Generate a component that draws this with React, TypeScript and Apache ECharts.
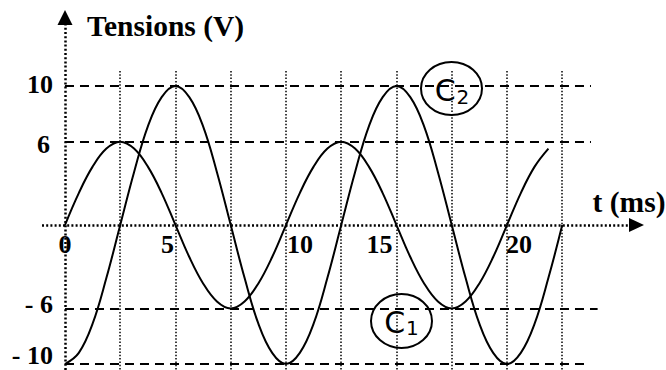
import React, { useEffect, useRef } from "react";
import * as echarts from "echarts";

// time samples (ms)
const TIME_MS = [
  0, 0.625, 1.25, 1.875, 2.5, 3.125, 3.75, 4.375, 5, 5.625, 6.25, 6.875, 7.5,
  8.125, 8.75, 9.375, 10, 10.625, 11.25, 11.875, 12.5, 13.125, 13.75, 14.375,
  15, 15.625, 16.25, 16.875, 17.5, 18.125, 18.75, 19.375, 20, 20.625, 21.25,
  21.875, 22.5,
];
// curve C1 (V)
const C1_VOLTS = [
  0, 2.3, 4.2, 5.5, 6, 5.5, 4.2, 2.3, 0, -2.3, -4.2, -5.5, -6, -5.5, -4.2, -2.3,
  0, 2.3, 4.2, 5.5, 6, 5.5, 4.2, 2.3, 0, -2.3, -4.2, -5.5, -6, -5.5, -4.2, -2.3,
  0, 2.3, 4.2, 5.5,
];
// curve C2 (V)
const C2_VOLTS = [
  -10, -9.2, -7.1, -3.8, 0, 3.8, 7.1, 9.2, 10, 9.2, 7.1, 3.8, 0, -3.8, -7.1, -9.2,
  -10, -9.2, -7.1, -3.8, 0, 3.8, 7.1, 9.2, 10, 9.2, 7.1, 3.8, 0, -3.8, -7.1, -9.2,
  -10, -9.2, -7.1, -3.8, 0,
];
const X_TICK_VALUES = [0, 5, 10, 15, 20];
const Y_TICK_VALUES = [10, 6, -6, -10];
const GRID_TIMES_MS = [2.5, 5, 7.5, 10, 12.5, 15, 17.5, 20, 22.5];
const LEVEL_VOLTS = [10, 6, -6, -10];
const LEVEL_END_MS = [23.8, 23.8, 24.1, 23.75];
const CURVE_NAMES = ["C1", "C2"];

const SERIF = "'Liberation Serif', 'Times New Roman', serif";
const SANS = "'DejaVu Sans', sans-serif";

export default function App() {
  const ref = useRef<HTMLDivElement>(null);

  useEffect(() => {
    if (!ref.current) return;
    const chart = echarts.init(ref.current, null, { renderer: "svg" });

    const base = { fontFamily: SERIF, fontWeight: "bold", fontSize: 26, color: "#000" };
    const nameBase = { ...base, fontSize: 29.5 };
    const xRich: any = {
      z: { ...base },
      f: { ...base, padding: [0, 16, 0, 0] },
      t: { ...base, padding: [0, 0, 0, 28] },
      ff: { ...base, padding: [0, 34, 0, 0] },
      tw: { ...base, padding: [0, 0, 0, 24] },
    };
    const xKey: Record<number, string> = { 0: "z", 5: "f", 10: "t", 15: "ff", 20: "tw" };
    const yRich: any = {
      a: { ...base, padding: [0, 0, 4, 0] },
      b: { ...base, padding: [6, 3, 0, 0] },
      c: { ...base, padding: [0, 0, 8, 0] },
      d: { ...base, padding: [0, 0, 17, 0] },
    };
    const yKey: Record<number, string> = { 10: "a", 6: "b", "-6": "c", "-10": "d" } as any;

    const yMin = -10.43;
    const vTop = 11.08;

    const axisLineStyle = { color: "#000", width: 2.5, type: [2, 2.2], cap: "butt" };

    const option: any = {
      animation: false,
      backgroundColor: "#fff",
      grid: {
        left: 42,
        top: 17.5,
        width: 594.5,
        height: 352.5,
        containLabel: false,
        outerBoundsMode: "none",
      },
      xAxis: {
        type: "value",
        position: "bottom",
        offset: -145,
        min: -1.04,
        max: 25.86,
        axisLine: {
          onZero: false,
          lineStyle: axisLineStyle,
          symbol: ["none", "triangle"],
          symbolSize: [14, 15],
        },
        axisTick: { show: false },
        splitLine: { show: false },
        axisLabel: {
          customValues: X_TICK_VALUES,
          margin: 6,
          formatter: (v: number) => `{${xKey[v]}|${v}}`,
          rich: xRich,
        },
        name: "{n|t (ms)}",
        nameLocation: "end",
        nameGap: 29,
        nameTextStyle: {
          ...nameBase,
          align: "right",
          verticalAlign: "middle",
          rich: { n: { ...nameBase, padding: [0, 0, 46, 0] } },
        },
      },
      yAxis: {
        type: "value",
        position: "left",
        offset: -23,
        min: yMin,
        max: 14.93,
        axisLine: {
          onZero: false,
          lineStyle: axisLineStyle,
          symbol: ["none", "triangle"],
          symbolSize: [15, 15],
        },
        axisTick: { show: false },
        splitLine: { show: false },
        axisLabel: {
          customValues: Y_TICK_VALUES,
          margin: 12,
          formatter: (v: number) => `{${yKey[v]}|${v < 0 ? "- " + Math.abs(v) : v}}`,
          rich: yRich,
        },
        name: "Tensions (V)",
        nameLocation: "end",
        nameGap: -8,
        nameTextStyle: {
          ...nameBase,
          align: "left",
          verticalAlign: "middle",
          padding: [0, 0, 0, 22],
        },
      },
      series: [
        {
          type: "line",
          data: [],
          silent: true,
          z: 1,
          markLine: {
            silent: true,
            symbol: ["none", "none"],
            label: { show: false },
            lineStyle: { color: "#000", width: 1.5, type: [1.5, 1.8] },
            data: GRID_TIMES_MS.map((t) => [
              { coord: [t, vTop] },
              { coord: [t, yMin] },
            ]),
          },
        },
        {
          type: "line",
          data: [],
          silent: true,
          z: 1,
          markLine: {
            silent: true,
            symbol: ["none", "none"],
            label: { show: false },
            lineStyle: { color: "#000", width: 2, type: [9, 6] },
            data: LEVEL_VOLTS.map((v, i) => [
              { coord: [0, v] },
              { coord: [LEVEL_END_MS[i], v] },
            ]),
          },
        },
        {
          type: "line",
          name: CURVE_NAMES[0],
          data: C1_VOLTS.map((v, i) => [TIME_MS[i], v]),
          smooth: 0.4,
          symbol: "none",
          lineStyle: { color: "#000", width: 2 },
          z: 3,
        },
        {
          type: "line",
          name: CURVE_NAMES[1],
          data: C2_VOLTS.map((v, i) => [TIME_MS[i], v]),
          smooth: 0.4,
          symbol: "none",
          lineStyle: { color: "#000", width: 2 },
          z: 3,
        },
      ],
      graphic: [
        {
          type: "group",
          z: 100,
          children: [
            {
              type: "ellipse",
              shape: { cx: 451.5, cy: 88.5, rx: 30.5, ry: 26.5 },
              style: { fill: "#fff", stroke: "#000", lineWidth: 2 },
            },
            {
              type: "text",
              x: 452,
              y: 90,
              style: {
                text: "{c|C}{s|2}",
                align: "center",
                verticalAlign: "middle",
                rich: {
                  c: { fontFamily: SANS, fontSize: 30, fill: "#000" },
                  s: { fontFamily: SANS, fontSize: 20, fill: "#000", padding: [14, 0, 0, 1] },
                },
              },
            },
          ],
        },
        {
          type: "group",
          z: 100,
          children: [
            {
              type: "ellipse",
              shape: { cx: 401.5, cy: 321, rx: 30.5, ry: 27 },
              style: { fill: "#fff", stroke: "#000", lineWidth: 2 },
            },
            {
              type: "text",
              x: 401.5,
              y: 322,
              style: {
                text: "{c|C}{s|1}",
                align: "center",
                verticalAlign: "middle",
                rich: {
                  c: { fontFamily: SANS, fontSize: 30, fill: "#000" },
                  s: { fontFamily: SANS, fontSize: 20, fill: "#000", padding: [12, 0, 0, 1] },
                },
              },
            },
          ],
        },
      ],
    };

    chart.setOption(option);
    return () => chart.dispose();
  }, []);

  return (
    <div
      ref={ref}
      style={{ position: "fixed", left: 0, top: 0, width: 666, height: 370, background: "#fff" }}
    />
  );
}
